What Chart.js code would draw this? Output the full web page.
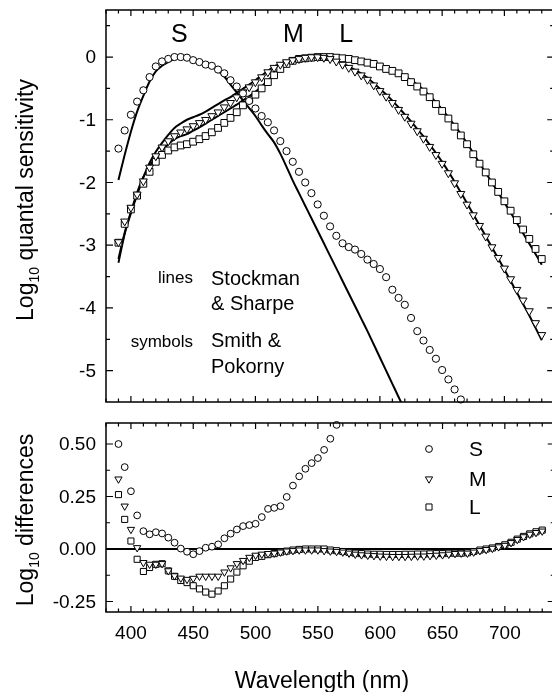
<!DOCTYPE html>
<html>
<head>
<meta charset="utf-8">
<script src="https://cdn.jsdelivr.net/npm/chart.js@4.4.1/dist/chart.umd.min.js"></script>
<style>
  html, body { margin: 0; padding: 0; background: #fff; overflow: hidden; }
  #wrap { position: relative; width: 560px; height: 692px; }
  canvas { position: absolute; left: 0; }
  #topChart { top: 0; }
  #bottomChart { top: 413px; }
</style>
</head>
<body>
<div id="wrap">
  <canvas id="topChart" width="560" height="413"></canvas>
  <canvas id="bottomChart" width="560" height="279"></canvas>
</div>
<script>
// wavelengths (nm), 5 nm steps
const wavelengths = [390, 395, 400, 405, 410, 415, 420, 425, 430, 435, 440, 445, 450, 455, 460, 465, 470, 475, 480, 485,
  490, 495, 500, 505, 510, 515, 520, 525, 530, 535, 540, 545, 550, 555, 560, 565, 570, 575, 580, 585,
  590, 595, 600, 605, 610, 615, 620, 625, 630, 635, 640, 645, 650, 655, 660, 665, 670, 675, 680, 685,
  690, 695, 700, 705, 710, 715, 720, 725, 730];

// Smith & Pokorny (symbols), log10 quantal sensitivity
const sSymbols = [-1.46, -1.17, -0.92, -0.71, -0.53, -0.32, -0.15, -0.07, -0.03, 0.0, 0.0, -0.01, -0.05, -0.08, -0.12, -0.14, -0.20, -0.26, -0.37, -0.47,
  -0.58, -0.70, -0.82, -0.94, -1.04, -1.17, -1.34, -1.50, -1.67, -1.83, -2.00, -2.17, -2.35, -2.53, -2.70, -2.85, -2.97, -3.03, -3.07, -3.14,
  -3.23, -3.30, -3.38, -3.51, -3.71, -3.84, -3.95, -4.16, -4.37, -4.52, -4.67, -4.81, -4.99, -5.14, -5.30, -5.46];
const mSymbols = [-2.95, -2.62, -2.40, -2.19, -1.98, -1.76, -1.58, -1.44, -1.34, -1.26, -1.20, -1.15, -1.10, -1.05, -1.00, -0.94, -0.88, -0.80, -0.73, -0.64,
  -0.56, -0.48, -0.40, -0.32, -0.24, -0.17, -0.12, -0.08, -0.05, -0.03, -0.01, 0.0, 0.0, -0.01, -0.03, -0.07, -0.12, -0.17, -0.23, -0.29,
  -0.36, -0.45, -0.54, -0.63, -0.73, -0.84, -0.95, -1.06, -1.18, -1.30, -1.43, -1.56, -1.70, -1.85, -2.01, -2.18, -2.35, -2.52, -2.69, -2.86,
  -3.03, -3.20, -3.37, -3.54, -3.71, -3.88, -4.05, -4.24, -4.43];
const lSymbols = [-2.96, -2.66, -2.43, -2.21, -2.02, -1.83, -1.67, -1.56, -1.49, -1.44, -1.41, -1.39, -1.35, -1.31, -1.26, -1.20, -1.13, -1.05, -0.97, -0.88,
  -0.77, -0.68, -0.60, -0.50, -0.40, -0.29, -0.19, -0.11, -0.06, -0.03, -0.02, -0.01, 0.0, 0.0, 0.0, -0.01, -0.02, -0.03, -0.05, -0.07,
  -0.09, -0.11, -0.15, -0.19, -0.22, -0.26, -0.32, -0.40, -0.47, -0.55, -0.64, -0.75, -0.86, -0.98, -1.11, -1.25, -1.39, -1.55, -1.70, -1.84,
  -2.00, -2.15, -2.30, -2.45, -2.60, -2.75, -2.90, -3.06, -3.22];

// Stockman & Sharpe (lines)
const sLine = [-1.96, -1.56, -1.19, -0.87, -0.62, -0.39, -0.23, -0.14, -0.08, -0.03, 0.0, 0.0, -0.025, -0.07, -0.12, -0.16, -0.22, -0.31, -0.44, -0.565,
  -0.69, -0.815, -0.94, -1.09, -1.23, -1.36, -1.54, -1.75, -1.97, -2.17, -2.37, -2.57, -2.77, -2.97, -3.17, -3.37, -3.57, -3.77, -3.97, -4.17,
  -4.37, -4.58, -4.79, -5.00, -5.21, -5.42, -5.63];
const mLine = [-3.28, -2.82, -2.49, -2.20, -1.92, -1.69, -1.51, -1.37, -1.24, -1.13, -1.06, -1.00, -0.96, -0.92, -0.87, -0.81, -0.75, -0.69, -0.64, -0.57,
  -0.505, -0.44, -0.37, -0.295, -0.22, -0.15, -0.105, -0.07, -0.042, -0.025, -0.005, 0.0, 0.0, 0.0, -0.02, -0.058, -0.105, -0.15, -0.205, -0.262,
  -0.33, -0.418, -0.506, -0.595, -0.694, -0.804, -0.914, -1.025, -1.146, -1.266, -1.398, -1.53, -1.672, -1.825, -1.988, -2.16, -2.33, -2.505, -2.682, -2.857,
  -3.033, -3.21, -3.387, -3.57, -3.755, -3.938, -4.12, -4.318, -4.515];
const lLine = [-3.22, -2.80, -2.47, -2.16, -1.91, -1.74, -1.60, -1.49, -1.39, -1.31, -1.26, -1.23, -1.175, -1.12, -1.06, -1.00, -0.94, -0.88, -0.82, -0.76,
  -0.69, -0.625, -0.555, -0.47, -0.375, -0.275, -0.18, -0.10, -0.055, -0.03, -0.02, -0.01, 0.0, 0.0, 0.0, -0.002, -0.008, -0.014, -0.03, -0.048,
  -0.066, -0.09, -0.12, -0.16, -0.20, -0.245, -0.30, -0.37, -0.44, -0.525, -0.615, -0.72, -0.835, -0.96, -1.09, -1.23, -1.375, -1.53, -1.69, -1.845,
  -2.00, -2.16, -2.32, -2.48, -2.645, -2.81, -2.975, -3.14, -3.31];

// log10 differences (symbols minus lines)
const sDiff = [0.50, 0.39, 0.275, 0.16, 0.085, 0.07, 0.08, 0.074, 0.054, 0.03, 0.002, -0.013, -0.025, -0.01, 0.006, 0.011, 0.022, 0.051, 0.073, 0.093,
  0.109, 0.114, 0.12, 0.152, 0.191, 0.196, 0.204, 0.248, 0.302, 0.346, 0.382, 0.409, 0.433, 0.472, 0.525, 0.591];
const mDiff = [0.333, 0.204, 0.093, 0.006, -0.065, -0.073, -0.073, -0.07, -0.104, -0.128, -0.139, -0.145, -0.14, -0.13, -0.13, -0.13, -0.13, -0.11, -0.09, -0.07,
  -0.055, -0.04, -0.03, -0.025, -0.022, -0.02, -0.015, -0.01, -0.008, -0.005, -0.005, -0.005, -0.005, -0.008, -0.01, -0.012, -0.015, -0.02, -0.025, -0.028,
  -0.03, -0.032, -0.034, -0.035, -0.036, -0.036, -0.036, -0.035, -0.034, -0.034, -0.032, -0.03, -0.028, -0.025, -0.022, -0.02, -0.02, -0.015, -0.008, -0.003,
  0.003, 0.01, 0.017, 0.03, 0.045, 0.058, 0.07, 0.078, 0.085];
const lDiff = [0.259, 0.141, 0.038, -0.049, -0.107, -0.088, -0.073, -0.07, -0.104, -0.13, -0.15, -0.16, -0.175, -0.19, -0.205, -0.215, -0.20, -0.175, -0.143, -0.11,
  -0.08, -0.058, -0.04, -0.035, -0.027, -0.022, -0.015, -0.01, -0.005, -0.002, 0, 0, 0, 0, -0.005, -0.008, -0.012, -0.016, -0.02, -0.022,
  -0.024, -0.025, -0.025, -0.026, -0.026, -0.026, -0.025, -0.025, -0.024, -0.024, -0.023, -0.022, -0.022, -0.02, -0.02, -0.02, -0.018, -0.012, -0.005, 0,
  0.005, 0.012, 0.02, 0.032, 0.047, 0.06, 0.072, 0.082, 0.09];

// axis ticks
const xTickLabels = [400, 450, 500, 550, 600, 650, 700];
const topYTicks = [0, -1, -2, -3, -4, -5];
const topYMinor = [0.5, -0.5, -1.5, -2.5, -3.5, -4.5];
const bottomYTicks = [0.5, 0.25, 0, -0.25];
const bottomYMinor = [0.375, 0.125, -0.125];

const FONT = "'Liberation Sans', Arial, Helvetica, sans-serif";
Chart.defaults.font.family = FONT;
Chart.defaults.color = '#000';

const pts = (ys) => ys.map((y, i) => ({ x: wavelengths[i], y: y }));

function symbolSet(data, style, radius, rotation) {
  return {
    data: pts(data),
    showLine: false,
    pointStyle: style,
    pointRadius: radius,
    pointRotation: rotation || 0,
    pointBackgroundColor: '#fff',
    pointBorderColor: '#000',
    pointBorderWidth: 1,
    clip: false,
    order: 1
  };
}

function lineSet(data) {
  return {
    data: pts(data),
    showLine: true,
    borderColor: '#000',
    borderWidth: 2,
    pointRadius: 0,
    cubicInterpolationMode: 'monotone',
    order: 2
  };
}

function drawFrame(chart, yMajor, yMinor) {
  const { ctx, chartArea: a, scales: { x, y } } = chart;
  ctx.save();
  ctx.strokeStyle = '#000';
  ctx.lineWidth = 1.5;
  ctx.strokeRect(a.left, a.top, a.right - a.left, a.bottom - a.top);
  ctx.lineWidth = 1.2;
  ctx.beginPath();
  for (let v = 380; v <= 740; v += 10) {
    const px = x.getPixelForValue(v);
    const len = v % 50 === 0 ? 6 : 3.5;
    ctx.moveTo(px, a.bottom); ctx.lineTo(px, a.bottom - len);
    ctx.moveTo(px, a.top); ctx.lineTo(px, a.top + len);
  }
  yMajor.forEach(v => {
    const py = y.getPixelForValue(v);
    ctx.moveTo(a.left, py); ctx.lineTo(a.left + 7, py);
    ctx.moveTo(a.right, py); ctx.lineTo(a.right - 7, py);
  });
  yMinor.forEach(v => {
    const py = y.getPixelForValue(v);
    ctx.moveTo(a.left, py); ctx.lineTo(a.left + 4, py);
    ctx.moveTo(a.right, py); ctx.lineTo(a.right - 4, py);
  });
  ctx.stroke();
  ctx.restore();
}

function drawYLabels(chart, ticks, fmt) {
  const { ctx, chartArea: a, scales: { y } } = chart;
  ctx.save();
  ctx.fillStyle = '#000';
  ctx.font = `19px ${FONT}`;
  ctx.textAlign = 'right';
  ctx.textBaseline = 'middle';
  ticks.forEach(v => ctx.fillText(fmt(v), a.left - 10, y.getPixelForValue(v) + 1));
  ctx.restore();
}

function drawYTitle(ctx, cx, cy, main, sub, rest) {
  ctx.save();
  ctx.translate(cx, cy);
  ctx.rotate(-Math.PI / 2);
  ctx.fillStyle = '#000';
  ctx.textAlign = 'left';
  ctx.textBaseline = 'alphabetic';
  const big = `23px ${FONT}`, small = `14px ${FONT}`;
  ctx.font = big;
  const w1 = ctx.measureText(main).width;
  const w3 = ctx.measureText(rest).width;
  ctx.font = small;
  const w2 = ctx.measureText(sub).width;
  const x0 = -(w1 + w2 + w3) / 2;
  ctx.font = big;
  ctx.fillText(main, x0, 0);
  ctx.font = small;
  ctx.fillText(sub, x0 + w1, 6);
  ctx.font = big;
  ctx.fillText(rest, x0 + w1 + w2, 0);
  ctx.restore();
}

function text(ctx, str, x, y, size, align, base) {
  ctx.font = `${size}px ${FONT}`;
  ctx.textAlign = align || 'left';
  ctx.textBaseline = base || 'alphabetic';
  ctx.fillText(str, x, y);
}

const topDecor = {
  id: 'topDecor',
  afterDraw(chart) {
    const { ctx, scales: { x } } = chart;
    drawFrame(chart, topYTicks, topYMinor);
    drawYLabels(chart, topYTicks, v => String(v));
    drawYTitle(ctx, 33, 200, 'Log', '10', ' quantal sensitivity');
    ctx.save();
    ctx.fillStyle = '#000';
    text(ctx, 'S', x.getPixelForValue(439), 35, 25, 'center', 'middle');
    text(ctx, 'M', x.getPixelForValue(530.5), 35, 25, 'center', 'middle');
    text(ctx, 'L', x.getPixelForValue(573), 35, 25, 'center', 'middle');
    text(ctx, 'lines', 193, 283, 17, 'right');
    text(ctx, 'Stockman', 211, 285, 20);
    text(ctx, '& Sharpe', 211, 310, 20);
    text(ctx, 'symbols', 193, 347, 17, 'right');
    text(ctx, 'Smith &', 211, 347, 20);
    text(ctx, 'Pokorny', 211, 373, 20);
    ctx.restore();
  }
};

const bottomDecor = {
  id: 'bottomDecor',
  beforeDatasetsDraw(chart) {
    const { ctx, chartArea: a, scales: { y } } = chart;
    const py = y.getPixelForValue(0);
    ctx.save();
    ctx.strokeStyle = '#000';
    ctx.lineWidth = 1.8;
    ctx.beginPath();
    ctx.moveTo(a.left, py);
    ctx.lineTo(a.right, py);
    ctx.stroke();
    ctx.restore();
  },
  afterDraw(chart) {
    const { ctx, chartArea: a, scales: { x } } = chart;
    drawFrame(chart, bottomYTicks, bottomYMinor);
    drawYLabels(chart, bottomYTicks, v => v.toFixed(2));
    ctx.save();
    ctx.fillStyle = '#000';
    xTickLabels.forEach(v => text(ctx, String(v), x.getPixelForValue(v), a.bottom + 12, 19, 'center', 'top'));
    text(ctx, 'Wavelength (nm)', 322, 275, 23, 'center');
    ctx.restore();
    drawYTitle(ctx, 33, 107, 'Log', '10', ' differences');

    // legend
    const items = [
      { label: 'S', style: 'circle', r: 3.4, rot: 0, y: 36 },
      { label: 'M', style: 'triangle', r: 4.2, rot: 180, y: 66 },
      { label: 'L', style: 'rect', r: 4.3, rot: 0, y: 94 }
    ];
    ctx.save();
    items.forEach(it => {
      ctx.fillStyle = '#fff';
      ctx.strokeStyle = '#000';
      ctx.lineWidth = 1;
      Chart.helpers.drawPoint(ctx, { pointStyle: it.style, radius: it.r, rotation: it.rot, borderWidth: 1 }, 429, it.y);
      ctx.fillStyle = '#000';
      text(ctx, it.label, 469, it.y + 1, 21, 'left', 'middle');
    });
    ctx.restore();
  }
};

const common = {
  responsive: false,
  animation: false,
  events: [],
  plugins: { legend: { display: false }, tooltip: { enabled: false } }
};

new Chart(document.getElementById('topChart'), {
  type: 'scatter',
  data: {
    datasets: [
      symbolSet(sSymbols, 'circle', 3.6),
      symbolSet(mSymbols, 'triangle', 4.6, 180),
      symbolSet(lSymbols, 'rect', 4.8),
      lineSet(sLine),
      lineSet(mLine),
      lineSet(lLine)
    ]
  },
  options: Object.assign({}, common, {
    layout: { padding: { left: 106, top: 10, right: 4.4, bottom: 11 } },
    scales: {
      x: { type: 'linear', min: 380, max: 740, display: false },
      y: { type: 'linear', min: -5.5, max: 0.75, display: false }
    }
  }),
  plugins: [topDecor]
});

new Chart(document.getElementById('bottomChart'), {
  type: 'scatter',
  data: {
    datasets: [
      symbolSet(sDiff, 'circle', 3.4),
      symbolSet(mDiff, 'triangle', 4.2, 180),
      symbolSet(lDiff, 'rect', 4.3)
    ]
  },
  options: Object.assign({}, common, {
    layout: { padding: { left: 106, top: 10, right: 4.4, bottom: 80 } },
    scales: {
      x: { type: 'linear', min: 380, max: 740, display: false },
      y: { type: 'linear', min: -0.3, max: 0.6, display: false }
    }
  }),
  plugins: [bottomDecor]
});
</script>
</body>
</html>
